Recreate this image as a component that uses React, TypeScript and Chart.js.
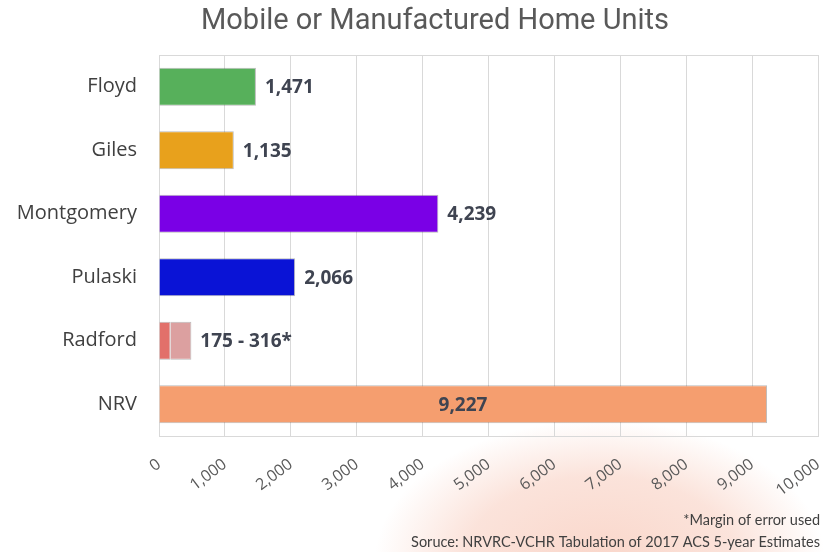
import React, { useEffect, useRef } from "react";
import { Chart, registerables } from "chart.js";

Chart.register(...registerables);

const titleText = "Mobile or Manufactured Home Units";
const categories = ["Floyd", "Giles", "Montgomery", "Pulaski", "Radford", "NRV"];
const estimateValues = [1471, 1135, 4239, 2066, 175, 9227];
const marginValues = [0, 0, 0, 0, 316, 0];
const valueLabels = ["1,471", "1,135", "4,239", "2,066", "175 - 316*", "9,227"];
const barColors = ["#57B05B", "#E8A11C", "#7A00E6", "#0A13D6", "#E2706A", "#F59E6F"];
const marginColors = ["#DCA0A0", "#DCA0A0", "#DCA0A0", "#DCA0A0", "#DCA0A0", "#DCA0A0"];
const axisMax = 10000;
const axisStep = 1000;
const footnotes = ["*Margin of error used", "Soruce: NRVRC-VCHR Tabulation of 2017 ACS 5-year Estimates"];

const W = 836;
const H = 552;

const boxPlugin = {
  id: "plotBox",
  beforeDatasetsDraw(chart: any) {
    const { ctx, chartArea } = chart;
    ctx.save();
    ctx.strokeStyle = "#D9D9D9";
    ctx.lineWidth = 1;
    ctx.strokeRect(
      Math.round(chartArea.left) + 0.5,
      Math.round(chartArea.top) + 0.5,
      Math.round(chartArea.right - chartArea.left),
      Math.round(chartArea.bottom - chartArea.top)
    );
    ctx.restore();
  },
};

const labelPlugin = {
  id: "valueLabels",
  afterDatasetsDraw(chart: any) {
    const { ctx } = chart;
    const xScale = chart.scales.x;
    const m0 = chart.getDatasetMeta(0).data;
    ctx.save();
    ctx.font = "bold 19px 'Open Sans'";
    ctx.fillStyle = "#3F4451";
    ctx.textBaseline = "middle";
    categories.forEach((_, i) => {
      const total = estimateValues[i] + marginValues[i];
      const endX = xScale.getPixelForValue(total);
      const baseX = xScale.getPixelForValue(0);
      const y = m0[i].y;
      if (total > axisMax * 0.6) {
        ctx.textAlign = "center";
        ctx.fillText(valueLabels[i], (baseX + endX) / 2, y + 1);
      } else {
        ctx.textAlign = "left";
        ctx.fillText(valueLabels[i], endX + 9, y + 1);
      }
    });
    ctx.restore();
  },
  afterDraw(chart: any) {
    const { ctx } = chart;
    ctx.save();
    ctx.fillStyle = "#595959";
    ctx.textAlign = "center";
    ctx.textBaseline = "middle";
    ctx.font = "29px Roboto";
    ctx.fillText(titleText, 435, 22);
    ctx.font = "14.5px Lato";
    ctx.fillStyle = "#404040";
    ctx.textAlign = "right";
    ctx.fillText(footnotes[0], 820, 520);
    ctx.fillText(footnotes[1], 820, 542);
    ctx.restore();
  },
};

export default function App() {
  const ref = useRef<HTMLCanvasElement | null>(null);
  useEffect(() => {
    if (!ref.current) return;
    const chart = new Chart(ref.current, {
      type: "bar",
      data: {
        labels: categories,
        datasets: [
          {
            label: "Estimate",
            data: estimateValues,
            backgroundColor: barColors,
            borderColor: "rgba(60,60,60,0.35)",
            borderWidth: 1,
            categoryPercentage: 1,
            barPercentage: 0.6,
          },
          {
            label: "Margin of error",
            data: marginValues,
            backgroundColor: marginColors,
            borderColor: "rgba(60,60,60,0.35)",
            borderWidth: marginValues.map((v) => (v > 0 ? 1 : 0)),
            categoryPercentage: 1,
            barPercentage: 0.6,
          },
        ],
      },
      options: {
        indexAxis: "y",
        responsive: false,
        animation: false,
        layout: { padding: { left: 0, right: 18, top: 55, bottom: 0 } },
        plugins: {
          legend: { display: false },
          tooltip: { enabled: false },
          title: { display: false },
        },
        scales: {
          x: {
            stacked: true,
            min: 0,
            max: axisMax,
            border: { display: false },
            grid: { color: "#D9D9D9", drawTicks: false, lineWidth: 1 },
            ticks: {
              stepSize: axisStep,
              minRotation: 37,
              maxRotation: 37,
              padding: 19,
              color: "#595959",
              font: { family: "Open Sans", size: 16 },
              callback: (v: any) => Number(v).toLocaleString("en-US"),
            },
            afterFit: (s: any) => {
              s.height = 116;
              s.paddingRight = 0;
              s.paddingLeft = 0;
            },
          },
          y: {
            stacked: true,
            border: { display: false },
            grid: { display: false, drawTicks: false },
            ticks: {
              padding: 22,
              color: "#404040",
              font: { family: "Open Sans", size: 20 },
            },
            afterFit: (s: any) => {
              s.width = 159;
            },
          },
        },
      },
      plugins: [boxPlugin, labelPlugin],
    } as any);
    return () => chart.destroy();
  }, []);

  return (
    <div
      style={{
        position: "absolute",
        left: 0,
        top: 0,
        width: W,
        height: H,
        background:
          "radial-gradient(ellipse 225px 140px at 600px 560px, rgba(246,188,168,0.6) 0%, rgba(246,188,168,0.42) 60%, rgba(255,255,255,0) 100%), #ffffff",
      }}
    >
      <canvas ref={ref} width={W} height={H} style={{ display: "block", width: W, height: H }} />
    </div>
  );
}
